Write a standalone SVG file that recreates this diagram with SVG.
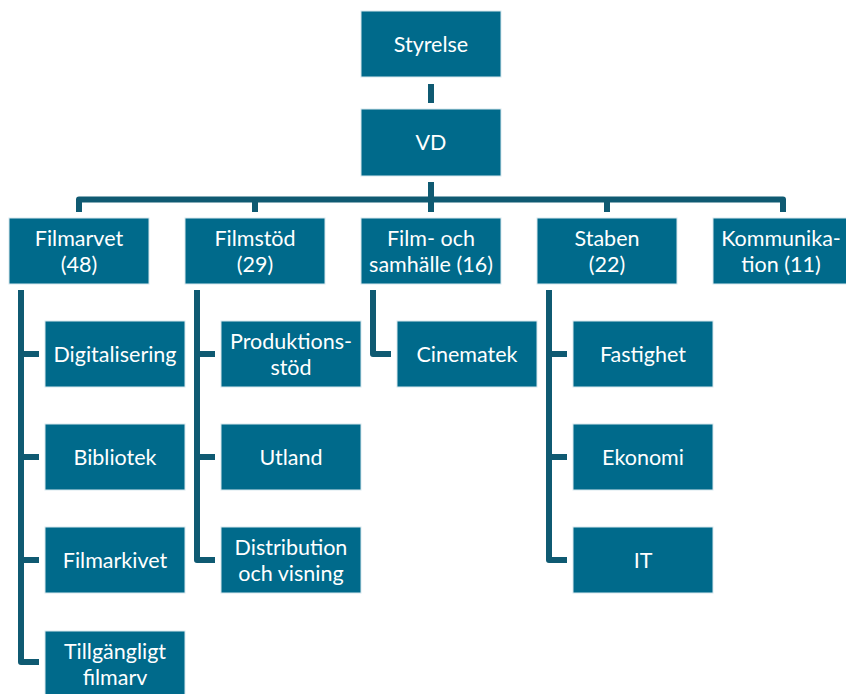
<svg xmlns="http://www.w3.org/2000/svg" width="846" height="694" viewBox="0 0 846 694">
<style>
.box{fill:#006a8b;stroke:#d7e8ee;stroke-width:1}
.t{font-family:Lato,"Open Sans","Liberation Sans",sans-serif;font-size:21.5px;fill:#ffffff;text-anchor:middle;dominant-baseline:central}
.c{fill:none;stroke:#0f5a72;stroke-width:6;stroke-linejoin:round;stroke-linecap:butt}
</style>
<rect width="846" height="694" fill="#ffffff"/>
<g id="connectors">
<path class="c" d="M431,84V103"/>
<path class="c" d="M431,182V199.5"/>
<path class="c" d="M79,212V199.5H783V212"/>
<path class="c" d="M255,199.5V212M431,199.5V212M607,199.5V212"/>
<path class="c" d="M21,290V662H39M21,354H39M21,457H39M21,560H39"/>
<path class="c" d="M197,290V560H215M197,354H215M197,457H215"/>
<path class="c" d="M373,290V354H391"/>
<path class="c" d="M549,290V560H567M549,354H567M549,457H567"/>
</g>
<g id="styrelse"><rect class="box" x="361" y="11" width="140" height="66"/><text class="t" x="431" y="44">Styrelse</text></g>
<g id="vd"><rect class="box" x="361" y="109" width="140" height="67"/><text class="t" x="431" y="142">VD</text></g>
<g id="filmarvet"><rect class="box" x="9" y="218" width="140" height="66"/><text class="t" x="79" y="238">Filmarvet</text><text class="t" x="79" y="264">(48)</text></g>
<g id="filmstod"><rect class="box" x="185" y="218" width="140" height="66"/><text class="t" x="255" y="238">Filmstöd</text><text class="t" x="255" y="264">(29)</text></g>
<g id="filmochsamhalle"><rect class="box" x="361" y="218" width="140" height="66"/><text class="t" x="431" y="238">Film- och</text><text class="t" x="431" y="264">samhälle (16)</text></g>
<g id="staben"><rect class="box" x="537" y="218" width="140" height="66"/><text class="t" x="607" y="238">Staben</text><text class="t" x="607" y="264">(22)</text></g>
<g id="kommunikation"><rect class="box" x="713" y="218" width="140" height="66"/><text class="t" x="781" y="238">Kommunika-</text><text class="t" x="781" y="264">tion (11)</text></g>
<g id="digitalisering"><rect class="box" x="45" y="321" width="140" height="66"/><text class="t" x="115" y="354">Digitalisering</text></g>
<g id="bibliotek"><rect class="box" x="45" y="424" width="140" height="66"/><text class="t" x="115" y="457">Bibliotek</text></g>
<g id="filmarkivet"><rect class="box" x="45" y="527" width="140" height="66"/><text class="t" x="115" y="560">Filmarkivet</text></g>
<g id="tillgangligt"><rect class="box" x="45" y="631" width="140" height="66"/><text class="t" x="115" y="651">Tillgängligt</text><text class="t" x="115" y="677">filmarv</text></g>
<g id="produktionsstod"><rect class="box" x="221" y="321" width="140" height="66"/><text class="t" x="291" y="341">Produktions-</text><text class="t" x="291" y="367">stöd</text></g>
<g id="utland"><rect class="box" x="221" y="424" width="140" height="66"/><text class="t" x="291" y="457">Utland</text></g>
<g id="distribution"><rect class="box" x="221" y="527" width="140" height="66"/><text class="t" x="291" y="547">Distribution</text><text class="t" x="291" y="573">och visning</text></g>
<g id="cinematek"><rect class="box" x="397" y="321" width="140" height="66"/><text class="t" x="467" y="354">Cinematek</text></g>
<g id="fastighet"><rect class="box" x="573" y="321" width="140" height="66"/><text class="t" x="643" y="354">Fastighet</text></g>
<g id="ekonomi"><rect class="box" x="573" y="424" width="140" height="66"/><text class="t" x="643" y="457">Ekonomi</text></g>
<g id="it"><rect class="box" x="573" y="527" width="140" height="66"/><text class="t" x="643" y="560">IT</text></g>
</svg>
